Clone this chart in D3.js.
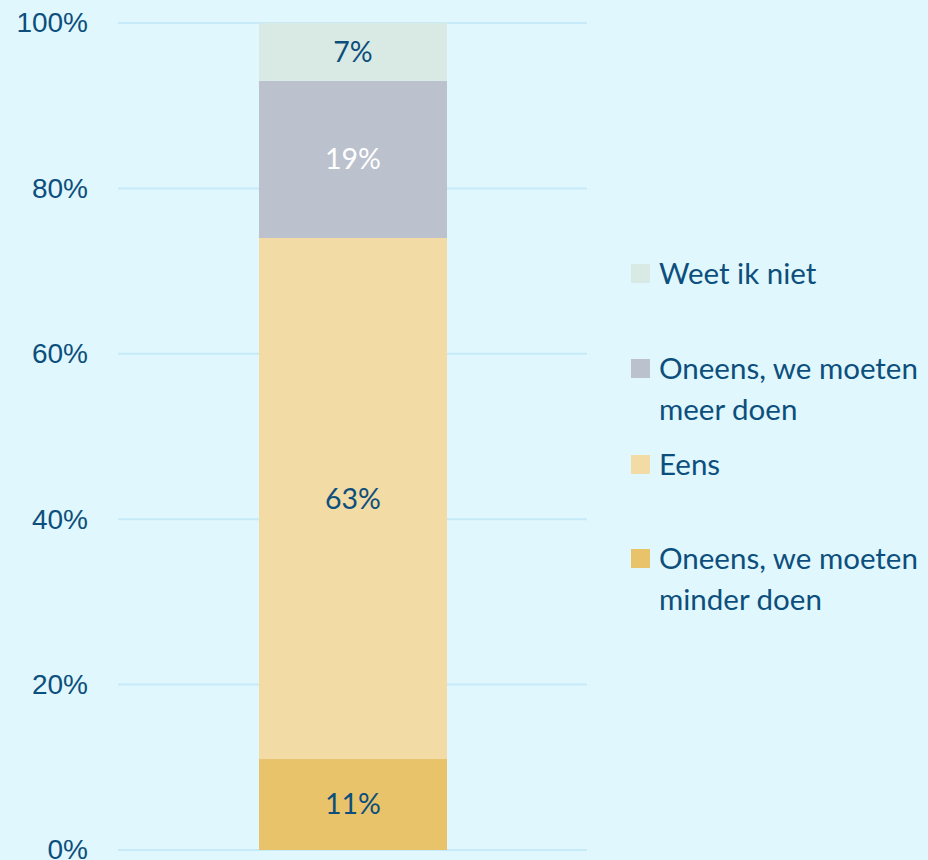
<!DOCTYPE html>
<html>
<head>
<meta charset="utf-8">
<script src="https://cdn.jsdelivr.net/npm/d3@7"></script>
<style>
  html, body { margin: 0; padding: 0; background: #e0f7fe; }
  svg { display: block; font-family: "Source Sans Pro", Lato, "Noto Sans", sans-serif; }
</style>
</head>
<body>
<div id="chart"></div>
<script>
// Categorieën van onder naar boven
const categories = ['Oneens, we moeten minder doen', 'Eens', 'Oneens, we moeten meer doen', 'Weet ik niet'];
const values = [11, 63, 19, 7];
const colors = ['#e8c36a', '#f2dba5', '#bbc1cd', '#d9eae5'];
const labelColors = ['#0d4f7c', '#0d4f7c', '#ffffff', '#0d4f7c'];
const yTicks = [0, 20, 40, 60, 80, 100];

// Legenda: volgorde en regels
const legendOrder = [3, 2, 1, 0];
const legendLines = [['Weet ik niet'], ['Oneens, we moeten', 'meer doen'], ['Eens'], ['Oneens, we moeten', 'minder doen']];
const legendY = [274, 369, 465, 559];

const width = 928;
const height = 860;
const textColor = '#0d4f7c';

let svg = d3.select('#chart')
  .append('svg')
  .attr('width', width)
  .attr('height', height);

let yScale = d3.scaleLinear()
  .domain([0, 100])
  .range([850, 23]);

// Rasterlijnen
svg.append('g')
  .selectAll('line')
  .data(yTicks)
  .enter()
  .append('line')
  .attr('x1', 118)
  .attr('x2', 587)
  .attr('y1', d => yScale(d))
  .attr('y2', d => yScale(d))
  .attr('stroke', '#c6eaf8')
  .attr('stroke-width', 2);

// Y-as
let yAxis = d3.axisLeft(yScale)
  .tickValues(yTicks)
  .tickFormat(d => d + '%')
  .tickSize(0)
  .tickPadding(0);

let yG = svg.append('g')
  .attr('transform', 'translate(88, 0)')
  .call(yAxis);
yG.select('.domain').remove();
yG.selectAll('text')
  .attr('fill', textColor)
  .style('font-size', '28px')
  .style('font-family', 'inherit');

// Gestapelde balk
let stack = [];
let acc = 0;
values.forEach((v, i) => {
  stack.push({ y0: acc, y1: acc + v, value: v, i: i });
  acc += v;
});

let bw = 188;
let bx = 259;

svg.append('g')
  .selectAll('rect')
  .data(stack)
  .enter()
  .append('rect')
  .attr('x', bx)
  .attr('width', bw)
  .attr('y', d => yScale(d.y1))
  .attr('height', d => yScale(d.y0) - yScale(d.y1))
  .attr('fill', d => colors[d.i]);

svg.append('g')
  .selectAll('text')
  .data(stack)
  .enter()
  .append('text')
  .attr('x', bx + bw / 2)
  .attr('y', d => (yScale(d.y0) + yScale(d.y1)) / 2)
  .attr('dy', '0.35em')
  .attr('text-anchor', 'middle')
  .attr('fill', d => labelColors[d.i])
  .style('font-size', '28.5px')
  .text(d => d.value + '%');

// Legenda
let legend = svg.append('g');
legendOrder.forEach((ci, k) => {
  let g = legend.append('g').attr('transform', `translate(631, ${legendY[k]})`);
  g.append('rect')
    .attr('x', 0)
    .attr('y', -10)
    .attr('width', 19)
    .attr('height', 19)
    .attr('fill', colors[ci]);
  legendLines[k].forEach((line, j) => {
    g.append('text')
      .attr('x', 28)
      .attr('y', j * 41)
      .attr('dy', '0.35em')
      .attr('fill', textColor)
      .style('font-size', '29.5px')
      .text(line);
  });
});
</script>
</body>
</html>
